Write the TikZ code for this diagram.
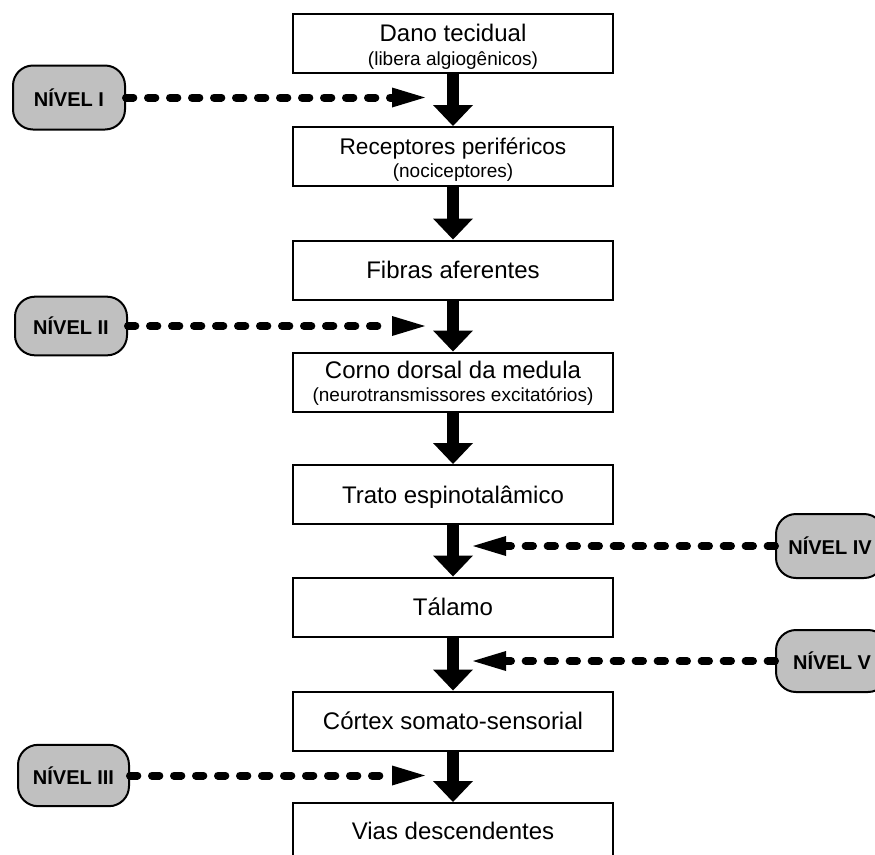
\documentclass[tikz,border=0pt]{standalone}
\usepackage{fontspec}
\setmainfont{Liberation Sans}
\usetikzlibrary{arrows.meta}
\definecolor{levelgray}{RGB}{192,192,192}
\tikzset{
  stepbox/.style={draw=black, line width=1.5pt, fill=white, minimum width=240pt, minimum height=44.25pt, inner sep=0pt},
  maintext/.style={anchor=base, inner sep=0pt, font=\fontsize{18pt}{21pt}\selectfont},
  subtext/.style={anchor=base, inner sep=0pt, font=\fontsize{14.25pt}{17pt}\selectfont},
  levelbox/.style={draw=black, line width=1.5pt, fill=levelgray, rounded corners=15pt, minimum width=84pt, minimum height=46.5pt, inner sep=0pt, anchor=west, font=\bfseries\fontsize{15pt}{18pt}\selectfont},
  bigarrow/.style={line width=9pt, -{Triangle[length=15.75pt, width=30pt, line width=0pt]}},
  dasharrow/.style={line width=6pt, line cap=round, dash pattern=on 5.5pt off 11pt, -{Triangle[length=24.75pt, width=15pt, line width=0pt]}}
}
\begin{document}
\begin{tikzpicture}[x=0.75pt, y=-0.75pt]
\clip (0,0) rectangle (875,854);
\fill[white] (0,0) rectangle (875,854);
% main boxes
\node[stepbox] (b1) at (453,43.5) {};
\node[stepbox] (b2) at (453,156.5) {};
\node[stepbox] (b3) at (453,270) {};
\node[stepbox] (b4) at (453,382) {};
\node[stepbox] (b5) at (453,494.5) {};
\node[stepbox] (b6) at (453,607) {};
\node[stepbox] (b7) at (453,721) {};
\node[stepbox, minimum height=60pt] (b8) at (453,843) {};
% texts
\path (b1.north) ++(0,28) node[maintext] (t1) {Dano tecidual};
\path (b1.north) ++(0,52.5) node[subtext] (s1) {(libera algiogênicos)};
\path (b2.north) ++(0,28.5) node[maintext, font=\fontsize{17pt}{20pt}\selectfont] (t2) {Receptores periféricos};
\path (b2.north) ++(0,51.5) node[subtext] (s2) {(nociceptores)};
\path (b3.center) ++(0,8.5) node[maintext] (t3) {Fibras aferentes};
\path (b4.north) ++(0,26.5) node[maintext] (t4) {Corno dorsal da medula};
\path (b4.north) ++(0,49.5) node[subtext] (s4) {(neurotransmissores excitatórios)};
\path (b5.center) ++(0,8.5) node[maintext] (t5) {Trato espinotalâmico};
\path (b6.center) ++(0,8.5) node[maintext] (t6) {Tálamo};
\path (b7.center) ++(0,8.5) node[maintext] (t7) {Córtex somato-sensorial};
\path (b8.north) ++(0,37) node[maintext] (t8) {Vias descendentes};
% vertical arrows
\draw[bigarrow] (b1.south) -- (b2.north);
\draw[bigarrow] (b2.south) -- (b3.north);
\draw[bigarrow] (b3.south) -- (b4.north);
\draw[bigarrow] (b4.south) -- (b5.north);
\draw[bigarrow] (b5.south) -- (b6.north);
\draw[bigarrow] (b6.south) -- (b7.north);
\draw[bigarrow] (b7.south) -- (b8.north);
% level boxes
\node[levelbox, minimum height=48pt] (l1) at (12,97.5) {NÍVEL I};
\node[levelbox, minimum width=84pt, minimum height=44pt] (l2) at (14,326) {NÍVEL II};
\node[levelbox, minimum width=83.25pt, minimum height=46pt] (l3) at (17,775.5) {NÍVEL III};
\node[levelbox, minimum width=81pt, minimum height=48pt] (l4) at (775,546) {NÍVEL IV};
\node[levelbox, minimum width=84pt, minimum height=46.5pt] (l5) at (775,661) {NÍVEL V};
% dashed arrows
\coordinate (c1) at (425,97.5);
\coordinate (c2) at (425,326);
\coordinate (c3) at (425,775.5);
\coordinate (c4) at (473,546);
\coordinate (c5) at (473,661);
\draw[dasharrow] (l1.east) -- (c1);
\draw[dasharrow] (l2.east) -- (c2);
\draw[dasharrow] (l3.east) -- (c3);
\draw[dasharrow] (l4.west) -- (c4);
\draw[dasharrow] (l5.west) -- (c5);
\end{tikzpicture}
\end{document}
